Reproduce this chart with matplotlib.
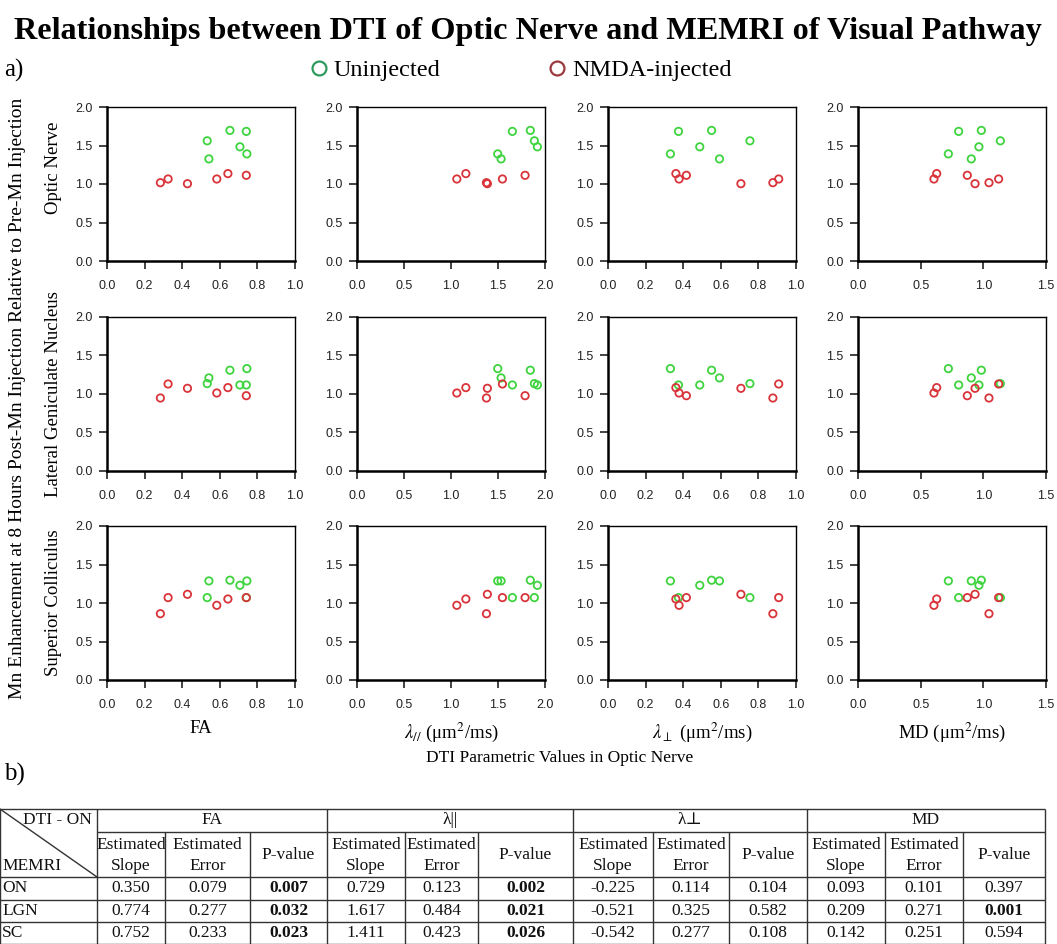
import matplotlib
matplotlib.use("Agg")
import matplotlib.pyplot as plt
from matplotlib.lines import Line2D

plt.rcParams['mathtext.fontset'] = 'stix'

# ---- data: one value per animal, same animal order in every panel ----
# uninjected (green)
fa_u = [0.744, 0.542, 0.741, 0.654, 0.533, 0.707]
lpar_u = [1.497, 1.533, 1.653, 1.844, 1.887, 1.919]
lperp_u = [0.332, 0.593, 0.375, 0.551, 0.755, 0.488]
md_u = [0.721, 0.904, 0.803, 0.984, 1.136, 0.965]
on_u = [1.391, 1.326, 1.683, 1.696, 1.561, 1.483]
lgn_u = [1.330, 1.209, 1.117, 1.309, 1.135, 1.117]
sc_u = [1.287, 1.287, 1.070, 1.296, 1.070, 1.230]

# NMDA-injected (red)
fa_n = [0.284, 0.325, 0.428, 0.584, 0.643, 0.741]
lpar_n = [1.377, 1.547, 1.387, 1.062, 1.158, 1.788]
lperp_n = [0.877, 0.908, 0.707, 0.378, 0.361, 0.417]
md_n = [1.045, 1.122, 0.934, 0.606, 0.628, 0.872]
on_n = [1.017, 1.065, 1.004, 1.065, 1.135, 1.113]
lgn_n = [0.948, 1.130, 1.074, 1.013, 1.083, 0.978]
sc_n = [0.861, 1.070, 1.113, 0.970, 1.052, 1.070]

dti_u = [fa_u, lpar_u, lperp_u, md_u]
dti_n = [fa_n, lpar_n, lperp_n, md_n]
memri_u = [on_u, lgn_u, sc_u]
memri_n = [on_n, lgn_n, sc_n]

row_labels = ['Optic Nerve', 'Lateral Geniculate Nucleus', 'Superior Colliculus']
col_labels = ['FA', r'$\lambda_{//}$ (μm$^2$/ms)', r'$\lambda_{\perp}$ (μm$^2$/ms)', r'MD (μm$^2$/ms)']
x_max = [1.0, 2.0, 1.0, 1.5]
x_step = [0.2, 0.5, 0.2, 0.5]

# ---- table data ----
table_rows = ['ON', 'LGN', 'SC']
table_groups = ['FA', 'λ||', 'λ⊥', 'MD']
fa_stats = [[0.350, 0.079, 0.007], [0.774, 0.277, 0.032], [0.752, 0.233, 0.023]]
lpar_stats = [[0.729, 0.123, 0.002], [1.617, 0.484, 0.021], [1.411, 0.423, 0.026]]
lperp_stats = [[-0.225, 0.114, 0.104], [-0.521, 0.325, 0.582], [-0.542, 0.277, 0.108]]
md_stats = [[0.093, 0.101, 0.397], [0.209, 0.271, 0.001], [0.142, 0.251, 0.594]]
group_stats = [fa_stats, lpar_stats, lperp_stats, md_stats]

W, H = 1057, 944
GREEN = '#3fd43f'
RED = '#d9343a'
SERIF = ['Liberation Serif', 'DejaVu Serif']
SANS = ['Liberation Sans', 'DejaVu Sans']


def box(l, t, w, h):
    return [l / W, 1 - (t + h) / H, w / W, h / H]


def ftext(x, y, s, **kw):
    fig.text(x / W, 1 - y / H, s, **kw)


fig = plt.figure(figsize=(W / 100, H / 100), dpi=100)

lefts = [107, 357, 608, 858]
tops = [107, 317, 526]
pw, ph = 188, 154

for r in range(3):
    for c in range(4):
        ax = fig.add_axes(box(lefts[c], tops[r], pw, ph))
        ax.scatter(dti_u[c], memri_u[r], s=28, facecolors='none',
                   edgecolors=GREEN, linewidths=1.3, zorder=3)
        ax.scatter(dti_n[c], memri_n[r], s=28, facecolors='none',
                   edgecolors=RED, linewidths=1.3, zorder=3)
        ax.set_xlim(0, x_max[c])
        ax.set_ylim(0, 2.0)
        n = int(round(x_max[c] / x_step[c]))
        ax.set_xticks([i * x_step[c] for i in range(n + 1)])
        ax.set_yticks([0, 0.5, 1.0, 1.5, 2.0])
        ax.xaxis.set_major_formatter(matplotlib.ticker.FormatStrFormatter('%.1f'))
        ax.yaxis.set_major_formatter(matplotlib.ticker.FormatStrFormatter('%.1f'))
        ax.tick_params(direction='out', length=5.5, width=1.2, labelsize=9,
                       colors='#222222')
        ax.tick_params(axis='y', pad=5)
        ax.tick_params(axis='x', pad=8)
        for lab in ax.get_xticklabels() + ax.get_yticklabels():
            lab.set_family(SANS)
        for side in ['left', 'bottom']:
            ax.spines[side].set_linewidth(1.8)
        for side in ['top', 'right']:
            ax.spines[side].set_linewidth(1.0)
        if r == 2:
            ax.set_xlabel(col_labels[c], family=SERIF, fontsize=13.5, labelpad=7)

# row labels
row_y = [168, tops[1] + ph / 2, tops[2] + ph / 2]
for r in range(3):
    ftext(54, row_y[r], row_labels[r], rotation=90, ha='center',
          va='center', family=SERIF, fontsize=13.5)

ftext(18, 398, 'Mn Enhancement at 8 Hours Post-Mn Injection Relative to Pre-Mn Injection',
      rotation=90, ha='center', va='center', family=SERIF, fontsize=14)
ftext(560, 758, 'DTI Parametric Values in Optic Nerve', ha='center', va='center',
      family=SERIF, fontsize=12.5)

# title and panel labels
ftext(528, 31, 'Relationships between DTI of Optic Nerve and MEMRI of Visual Pathway',
      ha='center', va='center', family=SERIF, fontsize=23.2, weight='bold')
ftext(4, 70, 'a)', ha='left', va='center', family=SERIF, fontsize=18)
ftext(4, 774, 'b)', ha='left', va='center', family=SERIF, fontsize=18)

handles = [Line2D([], [], marker='o', ls='none', mfc='none', mec='#2f9a5e', mew=1.6, ms=10),
           Line2D([], [], marker='o', ls='none', mfc='none', mec='#9a3a3f', mew=1.6, ms=10)]
fig.legend(handles, ['Uninjected', 'NMDA-injected'], loc='center left',
           bbox_to_anchor=(295 / W, 1 - 70 / H), ncol=2, frameon=False,
           prop={'family': SERIF, 'size': 17.5}, handletextpad=0.1,
           columnspacing=4.3, handlelength=1.0, borderpad=0)

# ---- table ----
tax = fig.add_axes([0, 0, 1, 1])
tax.set_xlim(0, W)
tax.set_ylim(H, 0)
tax.axis('off')

t_top, t_h1, t_h2 = 809, 832, 877
row_lines = [877, 900, 922, 944]
col_edges = [0, 97, 165, 250, 327, 405, 478, 573, 653, 729, 807, 885, 963, 1045]
group_edges = [97, 327, 573, 807, 1045]
lc = '#333333'
lw = 1.0

tax.hlines([t_top], 0, col_edges[-1], color=lc, lw=lw)
tax.hlines([t_h1], 97, col_edges[-1], color=lc, lw=lw)
tax.hlines(row_lines, 0, col_edges[-1], color=lc, lw=lw)
tax.vlines([0] + group_edges, t_top, H, color=lc, lw=lw)
inner = [e for e in col_edges[1:-1] if e not in group_edges]
tax.vlines(inner, t_h1, H, color=lc, lw=lw)
tax.plot([0, 97], [t_top, t_h2], color=lc, lw=lw)

tkw = dict(family=SERIF, fontsize=12.5, color='#111111')
tax.text(92, 820, 'DTI - ON', ha='right', va='center', **tkw)
tax.text(2, 866, 'MEMRI', ha='left', va='center', **tkw)

for g in range(4):
    gl, gr = group_edges[g], group_edges[g + 1]
    tax.text((gl + gr) / 2, (t_top + t_h1) / 2, table_groups[g], ha='center',
             va='center', **tkw)
    cols = col_edges[1 + 3 * g: 5 + 3 * g]
    centers = [(cols[i] + cols[i + 1]) / 2 for i in range(3)]
    tax.text(centers[0], 845, 'Estimated', ha='center', va='center', **tkw)
    tax.text(centers[0], 866, 'Slope', ha='center', va='center', **tkw)
    tax.text(centers[1], 845, 'Estimated', ha='center', va='center', **tkw)
    tax.text(centers[1], 866, 'Error', ha='center', va='center', **tkw)
    tax.text(centers[2], 855, 'P-value', ha='center', va='center', **tkw)
    for i in range(3):
        yc = (row_lines[i] + row_lines[i + 1]) / 2
        slope, err, p = group_stats[g][i]
        tax.text(centers[0], yc, f'{slope:.3f}', ha='center', va='center', **tkw)
        tax.text(centers[1], yc, f'{err:.3f}', ha='center', va='center', **tkw)
        tax.text(centers[2], yc, f'{p:.3f}', ha='center', va='center',
                 weight='bold' if p < 0.05 else 'normal', **tkw)

for i in range(3):
    yc = (row_lines[i] + row_lines[i + 1]) / 2
    tax.text(2, yc, table_rows[i], ha='left', va='center', **tkw)

fig.savefig('out.png', dpi=100)
